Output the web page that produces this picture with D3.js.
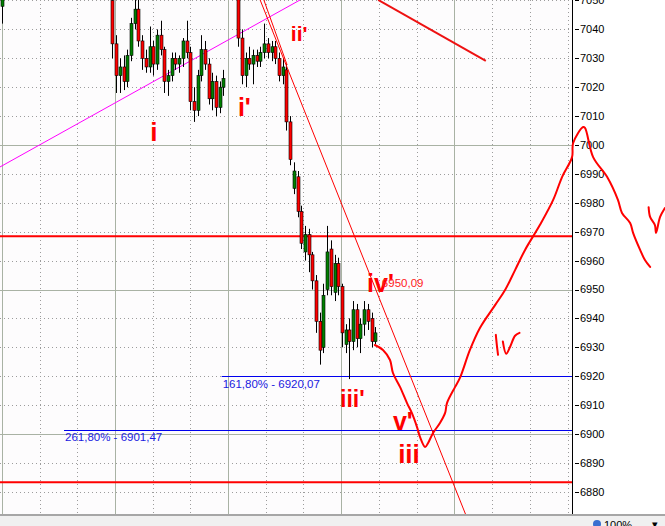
<!DOCTYPE html>
<html><head><meta charset="utf-8">
<script src="https://cdn.jsdelivr.net/npm/d3@7"></script>
<style>html,body{margin:0;padding:0;background:#fff;overflow:hidden}</style>
</head><body>
<svg id="c" width="665" height="526"></svg>
<script>
// ---- candle data (price) ----
const candleOpen  = [7048,7056,7062,7065,7070,7073,7071,7066,7068,7075,7080,7076,7072,7067,7069,7072,7076,7073,7069,7065,7068,7066,7062,7064,7068,7063,7060,7062,7058,7056,
 7050,7035,7024,7027,7022,7031,7042,7047,7036,7030,7027,7034,7028,7038,7033,7022,7024,7030,7028,7030,7036,7032,7015,7012,7024,7033,7028,7016,7022,7013,7020,
 7056,7061,7058,7055,7037,7024,7030,7028,7031,7029,7032,7035,7032,7034,7030,7024,7026,7008,6985,6989,6977,6963,6969,6962,6953,6939,6930,6950,6964,6949,6959,6951,6931,6936,6932,6943,6933,6938,6943,6940,6932];
const candleHigh  = [7058,7064,7068,7072,7076,7078,7075,7070,7077,7082,7084,7079,7075,7071,7074,7078,7080,7076,7072,7070,7073,7069,7066,7070,7071,7066,7064,7065,7061,7059,
 7056,7038,7030,7031,7033,7044,7054,7051,7038,7033,7041,7036,7040,7043,7034,7026,7032,7032,7031,7037,7043,7034,7020,7026,7038,7036,7030,7025,7024,7022,7026,
 7064,7066,7062,7058,7040,7032,7034,7033,7033,7034,7042,7037,7036,7036,7032,7030,7028,7010,6994,6991,6979,6972,6971,6963,6955,6942,6952,6972,6967,6962,6961,6952,6938,6940,6946,6945,6940,6946,6945,6942,6937];
const candleLow   = [7042,7053,7058,7061,7066,7069,7064,7060,7066,7072,7074,7070,7065,7063,7066,7070,7071,7067,7063,7062,7064,7060,7058,7061,7062,7058,7056,7057,7054,7053,
 7030,7018,7018,7019,7020,7029,7040,7034,7026,7025,7025,7024,7026,7031,7018,7017,7022,7026,7025,7027,7030,7012,7008,7010,7022,7026,7014,7012,7010,7011,7017,
 7053,7055,7053,7034,7021,7020,7026,7021,7027,7027,7030,7030,7029,7028,7022,7021,7005,6993,6983,6975,6964,6960,6956,6950,6935,6924,6928,6948,6948,6946,6948,6930,6928,6919,6929,6930,6928,6934,6936,6930,6931];
const candleClose = [7056,7062,7065,7070,7073,7071,7066,7068,7075,7080,7076,7072,7067,7069,7072,7076,7073,7069,7065,7068,7066,7062,7064,7068,7063,7060,7062,7058,7056,7054,
 7035,7024,7027,7022,7031,7042,7047,7036,7030,7027,7034,7028,7038,7033,7022,7024,7030,7028,7030,7036,7032,7015,7012,7024,7033,7028,7016,7022,7013,7020,7023,
 7061,7058,7055,7037,7024,7030,7028,7031,7029,7032,7035,7032,7034,7030,7024,7027,7008,6995,6991,6977,6966,6969,6962,6953,6939,6929,6948,6963,6951,6959,6951,6935,6936,6932,6943,6933,6938,6943,6939,6932,6935];

// ---- axis ----
const yTicks = [7050,7040,7030,7020,7010,7000,6990,6980,6970,6960,6950,6940,6930,6920,6910,6900,6890,6880];
const majorLevels = [7000,6950,6900];
const vSolid = [0.1,30.7,61.2,91.8,122.3];
const vDotted = [10.3,20.5,40.9,51.0,71.4,81.6,102,112.2,132.6,142.8,153];

// ---- annotations (index, price) ----
const redLevels = [6968.4, 6883.3];
const fibValues = [6920.07, 6901.47];
const fibStartIdx = [59.5, 16.9];
const fibLabels = ["161,80% - 6920,07", "261,80% - 6901,47"];
const fibLabelPrice = [6915.9, 6897.6];
const magentaIdx = [-0.41, 80.7], magentaPrice = [6992.4, 7050.2];
const thinIdx1 = [69.9, 125.4], thinPrice1 = [7050.2, 6872.3];
const thinIdx2 = [70.9, 77.2], thinPrice2 = [7050.2, 7027.7];
const thickIdx = [101.8, 130.9], thickPrice = [7050.2, 7029.1];
const pathIdx = [100.9,103.1,105.0,105.8,107.7,109.6,110.9,112.3,113.1,114.5,115.3,116.6,118.5,119.9,120.4,122.6,123.9,126.6,129.3,133.4,136.1,138.8,141.5,145.5,149.1,151.5,154.2,154.5,157.2,157.7,159.9,163.7,166.6,167.7,169.9,170.7,172.6,173.9,175.3];
const pathPrice = [6930.8,6929.1,6925.6,6921.1,6916.3,6910.7,6907.3,6902.4,6899.0,6895.5,6896.9,6900.3,6903.8,6907.3,6910.7,6916.3,6919.4,6929.1,6936.7,6944.6,6949.8,6956.7,6963.7,6972.3,6981.0,6988.9,6995.8,7000.7,7006.2,7005.9,6995.8,6988.9,6981.0,6976.5,6973.0,6969.6,6963.7,6960.2,6957.8];
const vMarkIdx = [174.9,175.3,176.6,176.9,178.0,179.3];
const vMarkPrice = [6978.5,6975.1,6972.3,6969.6,6975.1,6978.2];
const scribA_Idx = [133.6,133.9,134.2], scribA_Price = [6934.3,6930.5,6927.4];
const scribB_Idx = [135.5,136.4,137.5,138.8,140.0], scribB_Price = [6932.0,6927.8,6930.3,6934.0,6935.0];
const waveLabels = ["i","i'","ii'","iv'","iii'","v'","iii"];
const waveIdx    = [40.2,63.9,78.2,98.8,91.5,105.8,107.2];
const wavePrice  = [7001.4,7010.0,7036.0,6949.1,6909.3,6901.4,6890.0];
const waveSize   = [26,25,21,25,23,25,26];
const priceNote = "6950,09", priceNoteIdx = 102.8, priceNotePrice = 6950.9;

const svg = d3.select("#c");
const W = 572, H = 514;
const x = d3.scaleLinear().domain([0, 101]).range([1.5, 375.2]);
const y = d3.scaleLinear().domain([6880, 7040]).range([491.8, 29.4]);

svg.append("rect").attr("x",0).attr("y",0).attr("width",W).attr("height",H).attr("fill","#fdfcfd");
svg.append("defs").append("clipPath").attr("id","clip").append("rect").attr("width",W).attr("height",H);
const g = svg.append("g").attr("clip-path","url(#clip)");

// grid
g.selectAll(".hd").data(yTicks.filter(v=>!majorLevels.includes(v))).enter().append("line")
 .attr("x1",0).attr("x2",W).attr("y1",d=>Math.round(y(d))+0.5).attr("y2",d=>Math.round(y(d))+0.5)
 .attr("stroke","#9c9c9c").attr("stroke-dasharray","1,3");
g.selectAll(".vd").data(vDotted).enter().append("line")
 .attr("y1",0).attr("y2",H).attr("x1",d=>Math.round(x(d))+0.5).attr("x2",d=>Math.round(x(d))+0.5)
 .attr("stroke","#9c9c9c").attr("stroke-dasharray","1,3");
g.selectAll(".hs").data(majorLevels).enter().append("line")
 .attr("x1",0).attr("x2",W).attr("y1",d=>Math.round(y(d))+0.5).attr("y2",d=>Math.round(y(d))+0.5)
 .attr("stroke","#a9b2a4");
g.selectAll(".vs").data(vSolid).enter().append("line")
 .attr("y1",0).attr("y2",H).attr("x1",d=>Math.round(x(d))+0.5).attr("x2",d=>Math.round(x(d))+0.5)
 .attr("stroke","#a9b2a4");

// magenta trend line
g.append("line").attr("x1",x(magentaIdx[0])).attr("y1",y(magentaPrice[0])).attr("x2",x(magentaIdx[1])).attr("y2",y(magentaPrice[1]))
 .attr("stroke","#ff00ff").attr("stroke-width",1);

// red horizontal levels
g.selectAll(".rl").data(redLevels).enter().append("line")
 .attr("x1",0).attr("x2",W).attr("y1",d=>y(d)).attr("y2",d=>y(d)).attr("stroke","#ff0000").attr("stroke-width",2);

// fib blue lines
g.selectAll(".fl").data(fibValues).enter().append("line")
 .attr("x1",(d,i)=>x(fibStartIdx[i])).attr("x2",W).attr("y1",d=>Math.round(y(d))+0.5).attr("y2",d=>Math.round(y(d))+0.5)
 .attr("stroke","#0000ee").attr("stroke-width",1);
g.selectAll(".ft").data(fibLabels).enter().append("text")
 .attr("x",(d,i)=>x(fibStartIdx[i])+1).attr("y",(d,i)=>y(fibLabelPrice[i]))
 .attr("font-family","Liberation Sans, Arial, sans-serif").attr("font-size",11.5).attr("fill","#1a1ae0").text(d=>d);

// candles
const N = candleOpen.length;
const idx = d3.range(N);
g.selectAll(".wk").data(idx).enter().append("line")
 .attr("x1",i=>Math.round(x(i))+0.5).attr("x2",i=>Math.round(x(i))+0.5)
 .attr("y1",i=>y(candleHigh[i])).attr("y2",i=>y(candleLow[i])).attr("stroke","#000").attr("stroke-width",1);
g.selectAll(".bd").data(idx).enter().append("rect")
 .attr("x",i=>Math.round(x(i))-1).attr("width",3)
 .attr("y",i=>y(Math.max(candleOpen[i],candleClose[i])))
 .attr("height",i=>Math.max(1,Math.abs(y(candleOpen[i])-y(candleClose[i]))))
 .attr("fill",i=>candleClose[i]>=candleOpen[i]?"#008000":"#ff0000")
 .attr("stroke","#000").attr("stroke-width",0.6);

// thin red trend lines
[[thinIdx1,thinPrice1],[thinIdx2,thinPrice2]].forEach(([a,b])=>{
 g.append("line").attr("x1",x(a[0])).attr("y1",y(b[0])).attr("x2",x(a[1])).attr("y2",y(b[1]))
  .attr("stroke","#ff0000").attr("stroke-width",1);
});
g.append("line").attr("x1",x(thickIdx[0])).attr("y1",y(thickPrice[0])).attr("x2",x(thickIdx[1])).attr("y2",y(thickPrice[1]))
 .attr("stroke","#ee1111").attr("stroke-width",2);

// axis
svg.append("rect").attr("x",W+1).attr("y",0).attr("width",665-W-1).attr("height",H).attr("fill","#fff");
svg.append("line").attr("x1",W+0.5).attr("x2",W+0.5).attr("y1",0).attr("y2",H).attr("stroke","#000");
const ax = svg.append("g");
ax.selectAll(".tk").data(yTicks).enter().append("line")
 .attr("x1",575).attr("x2",579).attr("y1",d=>Math.round(y(d))+0.5).attr("y2",d=>Math.round(y(d))+0.5).attr("stroke","#000");
ax.selectAll(".tl").data(yTicks).enter().append("text")
 .attr("x",580).attr("y",d=>y(d)).attr("dy","0.36em")
 .attr("font-family","Liberation Sans, Arial, sans-serif").attr("font-size",11).attr("fill","#000").text(d=>d);

// hand-drawn paths (drawn on top, across the axis)
const line = d3.line().x(d=>x(d[0])).y(d=>y(d[1])).curve(d3.curveCatmullRom);
const drawPath = (I,P,parent)=> parent.append("path").attr("d",line(I.map((v,k)=>[v,P[k]])))
 .attr("fill","none").attr("stroke","#ff0000").attr("stroke-width",2).attr("stroke-linejoin","round").attr("stroke-linecap","round");
drawPath(pathIdx,pathPrice,svg);
drawPath(vMarkIdx,vMarkPrice,svg);
drawPath(scribA_Idx,scribA_Price,svg);
drawPath(scribB_Idx,scribB_Price,svg);

// wave labels
svg.selectAll(".wl").data(waveLabels).enter().append("text")
 .attr("x",(d,i)=>x(waveIdx[i])).attr("y",(d,i)=>y(wavePrice[i]))
 .attr("font-family","Liberation Sans, Arial, sans-serif").attr("font-weight","bold")
 .attr("font-size",(d,i)=>waveSize[i]).attr("fill","#ff0000").text(d=>d);
svg.append("text").attr("x",x(priceNoteIdx)).attr("y",y(priceNotePrice))
 .attr("font-family","Liberation Sans, Arial, sans-serif").attr("font-size",11.5).attr("fill","#ff2020").text(priceNote);

// status bar
svg.append("rect").attr("x",0).attr("y",H).attr("width",665).attr("height",526-H).attr("fill","#f0f0f0");
svg.append("rect").attr("x",0).attr("y",H).attr("width",665).attr("height",2).attr("fill","#a6a6a6");
svg.append("circle").attr("cx",597).attr("cy",524).attr("r",4).attr("fill","#3a6fd0");
svg.append("text").attr("x",604).attr("y",529).attr("font-family","Liberation Sans, Arial, sans-serif").attr("font-size",11).attr("fill","#000").text("100%");
svg.append("text").attr("x",652).attr("y",528).attr("font-family","Liberation Sans, Arial, sans-serif").attr("font-size",11).attr("fill","#000").text("▾");
</script>
</body></html>
